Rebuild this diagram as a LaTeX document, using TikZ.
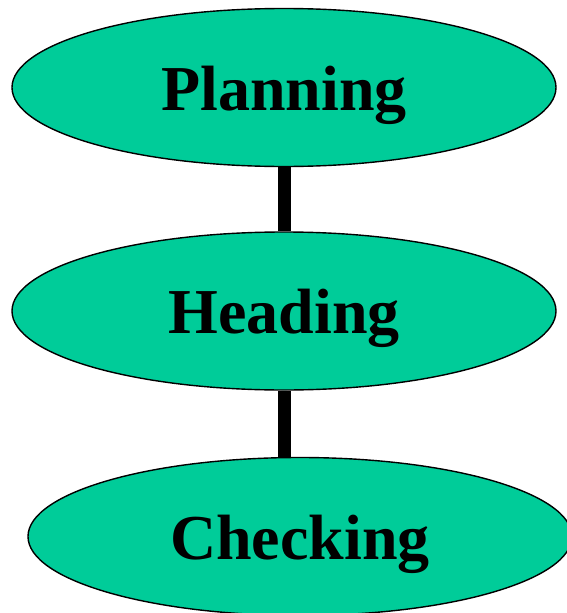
\documentclass[tikz,border=0pt]{standalone}
\usepackage{fontspec}
\setmainfont{Liberation Serif}
\usetikzlibrary{shapes.geometric}
\definecolor{stagefill}{HTML}{00CC99}
\tikzset{
  stage/.style={ellipse, draw=black, line width=1.4pt, fill=stagefill,
    minimum width=544pt, minimum height=158pt, inner sep=0pt,
    text height=45pt, text depth=0pt,
    font=\fontsize{64}{76}\selectfont\bfseries},
  link/.style={line width=13pt}
}
\begin{document}
\begin{tikzpicture}[x=1pt,y=-1pt]
  \useasboundingbox (0,0) rectangle (567,613);
  \clip (0,0) rectangle (567,613);
  % three stages, stacked top to bottom
  \node[stage] (plan) at (284,87.5) {Planning};
  \node[stage] (head) at (284,311) {Heading};
  \node[stage] (check) at (300,536.5) {Checking};
  % thick vertical bars joining the stages
  \draw[link] (plan.south) -- (head.north);
  \draw[link] (head.south) -- (check.north -| head.south);
\end{tikzpicture}
\end{document}
